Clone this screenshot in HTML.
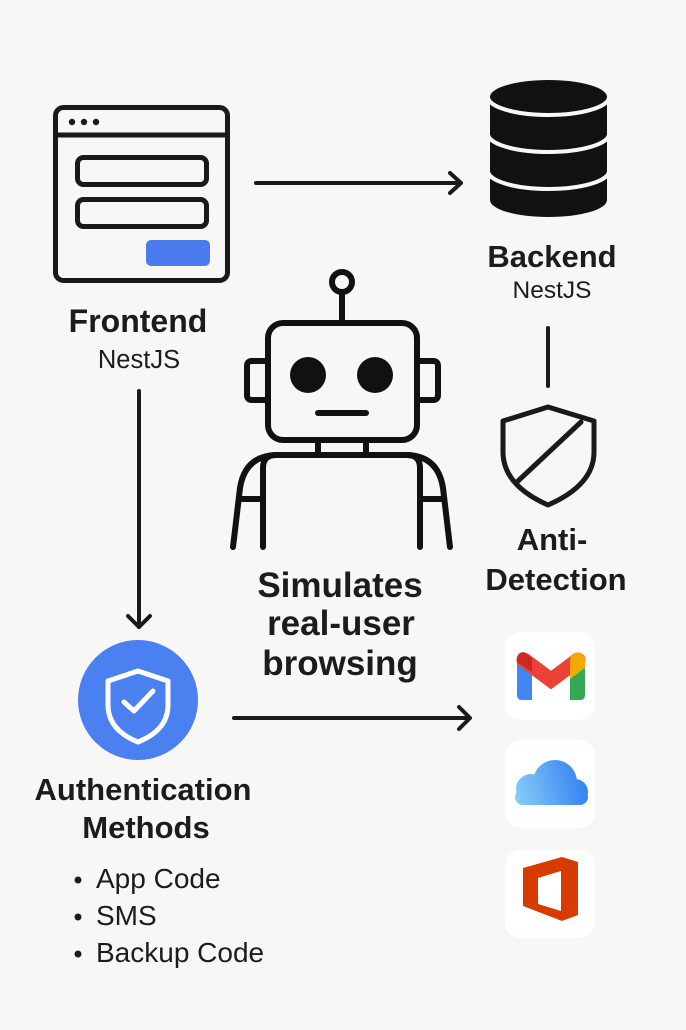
<!DOCTYPE html>
<html><head><meta charset="utf-8"><style>
html,body{margin:0;padding:0;background:#f8f7f5;}
svg{display:block;}
text{font-family:"Liberation Sans",Arial,sans-serif;fill:#1c1c1c;}
.b{font-weight:700;}
</style></head><body>
<svg width="686" height="1030" viewBox="0 0 686 1030" xmlns="http://www.w3.org/2000/svg">
<defs>
<linearGradient id="cg" gradientUnits="userSpaceOnUse" x1="513" y1="790" x2="588" y2="770">
<stop offset="0" stop-color="#86cdf8"/><stop offset="1" stop-color="#2f7cf0"/>
</linearGradient>
</defs>
<rect width="686" height="1030" fill="#f8f7f5"/>

<!-- Frontend window -->
<g fill="none" stroke="#1a1a1a" stroke-width="5">
<rect x="55.5" y="107.5" width="172" height="173" rx="8"/>
<line x1="55" y1="135" x2="228" y2="135"/>
<rect x="77.5" y="157.5" width="129" height="27" rx="6"/>
<rect x="77.5" y="199.5" width="129" height="27" rx="6"/>
</g>
<circle cx="72" cy="122" r="3.2" fill="#1a1a1a"/>
<circle cx="84" cy="122" r="3.2" fill="#1a1a1a"/>
<circle cx="96" cy="122" r="3.2" fill="#1a1a1a"/>
<rect x="146" y="240" width="64" height="26" rx="5" fill="#4a7cf0"/>
<text x="138" y="332" font-size="32" class="b" text-anchor="middle">Frontend</text>
<text x="139" y="368" font-size="25.5" text-anchor="middle">NestJS</text>

<!-- arrow frontend -> backend -->
<g fill="none" stroke="#1a1a1a" stroke-width="4" stroke-linecap="round" stroke-linejoin="round">
<line x1="256" y1="183" x2="460" y2="183"/>
<polyline points="450,173 461,183 450,193"/>
<!-- vertical arrow -->
<line x1="139" y1="391" x2="139" y2="627"/>
<polyline points="128,616 139,627 150,616"/>
<!-- bottom arrow -->
<line x1="234" y1="718" x2="469" y2="718"/>
<polyline points="459,707 470,718 459,729"/>
<!-- backend line -->
<line x1="548" y1="328" x2="548" y2="386"/>
</g>

<!-- Database -->
<path d="M490 97 A58.5 17 0 0 1 607 97 L607 200 A58.5 17 0 0 1 490 200 Z" fill="#111"/>
<g fill="none" stroke="#f8f7f5" stroke-width="4">
<path d="M488 97 A60.5 18 0 0 0 609 97"/>
<path d="M488 134 A60.5 18 0 0 0 609 134"/>
<path d="M488 171 A60.5 18 0 0 0 609 171"/>
</g>
<text x="552" y="267" font-size="31" class="b" text-anchor="middle">Backend</text>
<text x="552" y="298" font-size="24.5" text-anchor="middle">NestJS</text>

<!-- Anti-detection shield -->
<g fill="none" stroke="#1a1a1a" stroke-width="5" stroke-linejoin="round" stroke-linecap="round">
<path d="M548 407 L594 421 L594 452 Q594 485 548 505 Q503 485 503 452 L503 421 Z"/>
<line x1="518" y1="481" x2="581" y2="422"/>
</g>
<text x="552" y="550" font-size="31" class="b" text-anchor="middle">Anti-</text>
<text x="556" y="590" font-size="31" class="b" text-anchor="middle">Detection</text>

<!-- Robot -->
<g fill="none" stroke="#111" stroke-width="6" stroke-linecap="round" stroke-linejoin="round">
<circle cx="342" cy="282" r="10"/>
<line x1="342" y1="293" x2="342" y2="321"/>
<rect x="268" y="323" width="149" height="117" rx="15"/>
<path d="M268 361 L252 361 Q247 361 247 366 L247 395 Q247 400 252 400 L268 400"/>
<path d="M417 361 L433 361 Q438 361 438 366 L438 395 Q438 400 433 400 L417 400"/>
<line x1="318" y1="413" x2="366" y2="413"/>
<line x1="318" y1="441" x2="318" y2="455"/>
<line x1="366" y1="441" x2="366" y2="455"/>
<path d="M263 547 L263 468 Q263 455 276 455 L407 455 Q420 455 420 468 L420 547"/>
<path d="M276 455 Q245 456 240 488 L233 547"/>
<path d="M407 455 Q438 456 443 488 L450 547"/>
<line x1="240" y1="499" x2="263" y2="499"/>
<line x1="443" y1="499" x2="420" y2="499"/>
</g>
<circle cx="308" cy="375" r="18" fill="#111"/>
<circle cx="375" cy="375" r="18" fill="#111"/>

<text x="340" y="597" font-size="35" class="b" text-anchor="middle">Simulates</text>
<text x="341" y="635" font-size="35" class="b" text-anchor="middle">real-user</text>
<text x="340" y="675" font-size="35" class="b" text-anchor="middle">browsing</text>

<!-- Auth -->
<circle cx="138" cy="700" r="60" fill="#4a80f0"/>
<g fill="none" stroke="#fff" stroke-width="5" stroke-linejoin="round" stroke-linecap="round">
<path d="M138 671 L168 681 L168 705 Q168 730 138 742 Q108 730 108 705 L108 681 Z"/>
<polyline points="124,702 134,711 153,691"/>
</g>
<text x="143" y="800" font-size="31" class="b" text-anchor="middle">Authentication</text>
<text x="146" y="838" font-size="31" class="b" text-anchor="middle">Methods</text>
<circle cx="78" cy="880" r="3.5" fill="#1c1c1c"/>
<circle cx="78" cy="917" r="3.5" fill="#1c1c1c"/>
<circle cx="78" cy="954" r="3.5" fill="#1c1c1c"/>
<text x="96" y="888" font-size="28">App Code</text>
<text x="96" y="925" font-size="28">SMS</text>
<text x="96" y="962" font-size="28">Backup Code</text>

<!-- service tiles -->
<rect x="505" y="632" width="90" height="88" rx="16" fill="#ffffff"/>
<rect x="505" y="740" width="90" height="88" rx="16" fill="#ffffff"/>
<rect x="505" y="850" width="90" height="88" rx="16" fill="#ffffff"/>

<!-- Gmail -->
<path d="M517 662 L517 695 Q517 700 522 700 L532 700 L532 672 Z" fill="#4285f4"/>
<path d="M570 672 L570 700 L580 700 Q585 700 585 695 L585 662 Z" fill="#34a853"/>
<polyline points="524,660 551,680 578,660" fill="none" stroke="#ea4335" stroke-width="15" stroke-linecap="round" stroke-linejoin="miter"/>
<path d="M571 655 Q578 650 583 655 Q586 658 585 664 L585 668 L570 679 L570 662 Z" fill="#f4b400" opacity="0.9"/>
<path d="M517 662 Q516 652 524 652 L532 658 L532 672 L517 662 Z" fill="#c5221f" opacity="0.8"/>

<!-- iCloud -->
<g fill="url(#cg)">
<circle cx="555" cy="782" r="22"/>
<circle cx="531" cy="789" r="15"/>
<circle cx="575" cy="792" r="13"/>
<rect x="515" y="789" width="73" height="16" rx="8"/>
</g>

<!-- Office -->
<path fill-rule="evenodd" fill="#d83b01" d="M523 868 L562 857 L578 862 L578 915 L562 921 L523 906 Z M538 878 L561 871 L561 911 L538 904 Z"/>
</svg>
</body></html>
